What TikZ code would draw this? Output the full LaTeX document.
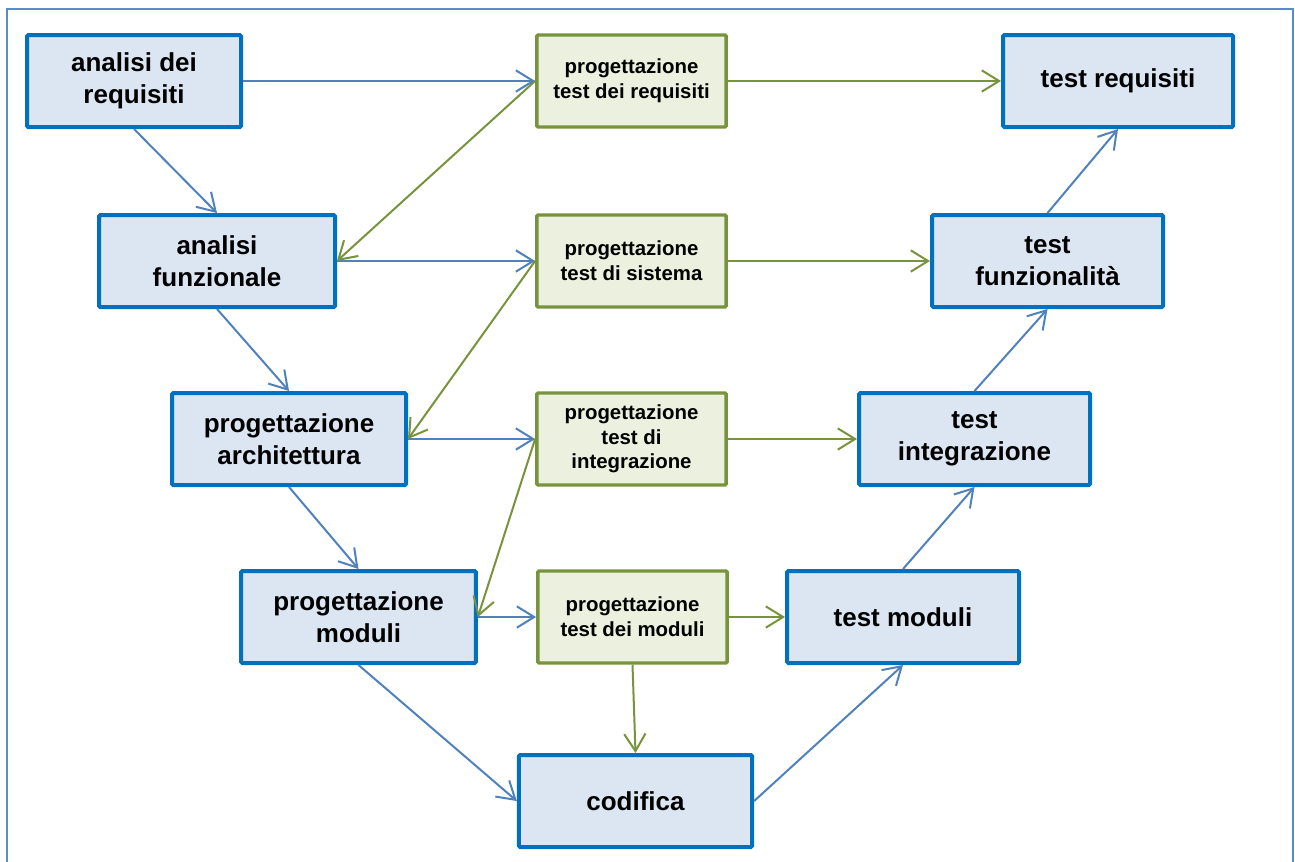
\documentclass[tikz,border=0pt]{standalone}
\usepackage{fontspec}
\setmainfont{Liberation Sans}
\usetikzlibrary{arrows.meta}
\definecolor{bfill}{HTML}{DCE6F2}
\definecolor{bline}{HTML}{0070C0}
\definecolor{gfill}{HTML}{EBF1DE}
\definecolor{gline}{HTML}{77933C}
\definecolor{barrow}{HTML}{4F81BD}
\definecolor{garrow}{HTML}{77933C}
\definecolor{frame}{HTML}{5B8BCB}
\tikzset{
  bbox/.style={draw=bline, fill=bfill, line width=3pt, rounded corners=1pt, inner sep=0pt, minimum height=69pt, align=center,
    font=\fontsize{19.5}{24}\selectfont\bfseries},
  gbox/.style={draw=gline, fill=gfill, line width=2.6pt, rounded corners=1pt, inner sep=0pt, minimum height=69pt, minimum width=142pt, align=center,
    font=\fontsize{15.3}{18.5}\selectfont\bfseries},
  tip/.style={-{Straight Barb[length=13pt,width=16pt,line width=1.5pt]}},
  barr/.style={tip, draw=barrow, line width=1.5pt},
  garr/.style={tip, draw=garrow, line width=1.5pt},
}
\begin{document}
\begin{tikzpicture}[x=0.75pt,y=-0.75pt]
\useasboundingbox (0,0) rectangle (1295,861);
\draw[frame, line width=1.6pt] (7,870) -- (7,9) -- (1293,9) -- (1293,870);

\node[bbox, minimum width=160.5pt] (ar) at (134,81) {analisi dei\\requisiti};
\node[gbox] (ptr) at (631.5,81) {progettazione\\test dei requisiti};
\node[bbox, minimum width=172.5pt] (tr) at (1118,81) {test requisiti};

\node[bbox, minimum width=177pt] (af) at (217,261) {analisi\\funzionale};
\node[gbox] (pts) at (631.5,261) {progettazione\\test di sistema};
\node[bbox, minimum width=173.25pt] (tf) at (1047.5,261) {test\\funzionalità};

\node[bbox, minimum width=175.5pt] (pa) at (289,439) {progettazione\\architettura};
\node[gbox] (pti) at (631.5,439) {progettazione\\test di\\integrazione};
\node[bbox, minimum width=173.25pt] (ti) at (974.5,439) {test\\integrazione};

\node[bbox, minimum width=176pt] (pm) at (358.5,617) {progettazione\\moduli};
\node[gbox] (ptm) at (632.5,617) {progettazione\\test dei moduli};
\node[bbox, minimum width=174pt] (tm) at (903,617) {test moduli};

\node[bbox, minimum width=175pt] (co) at (635.5,801) {codifica};

% horizontal
\draw[barr] (ar.east) -- (ptr.west);
\draw[garr] (ptr.east) -- (tr.west);
\draw[barr] (af.east) -- (pts.west);
\draw[garr] (pts.east) -- (tf.west);
\draw[barr] (pa.east) -- (pti.west);
\draw[garr] (pti.east) -- (ti.west);
\draw[barr] (pm.east) -- (ptm.west);
\draw[garr] (ptm.east) -- (tm.west);

% left descending
\draw[barr] (ar.south) -- (af.north);
\draw[barr] (af.south) -- (pa.north);
\draw[barr] (pa.south) -- (pm.north);
\draw[barr] (pm.south) -- (co.west);

% green diagonals
\draw[garr] (ptr.west) -- (af.east);
\draw[garr] (pts.west) -- (pa.east);
\draw[garr] (pti.west) -- (pm.east);
\draw[garr] (ptm.south) -- (co.north);

% right ascending
\draw[barr] (co.east) -- (tm.south);
\draw[barr] (tm.north) -- (ti.south);
\draw[barr] (ti.north) -- (tf.south);
\draw[barr] (tf.north) -- (tr.south);
\end{tikzpicture}
\end{document}
